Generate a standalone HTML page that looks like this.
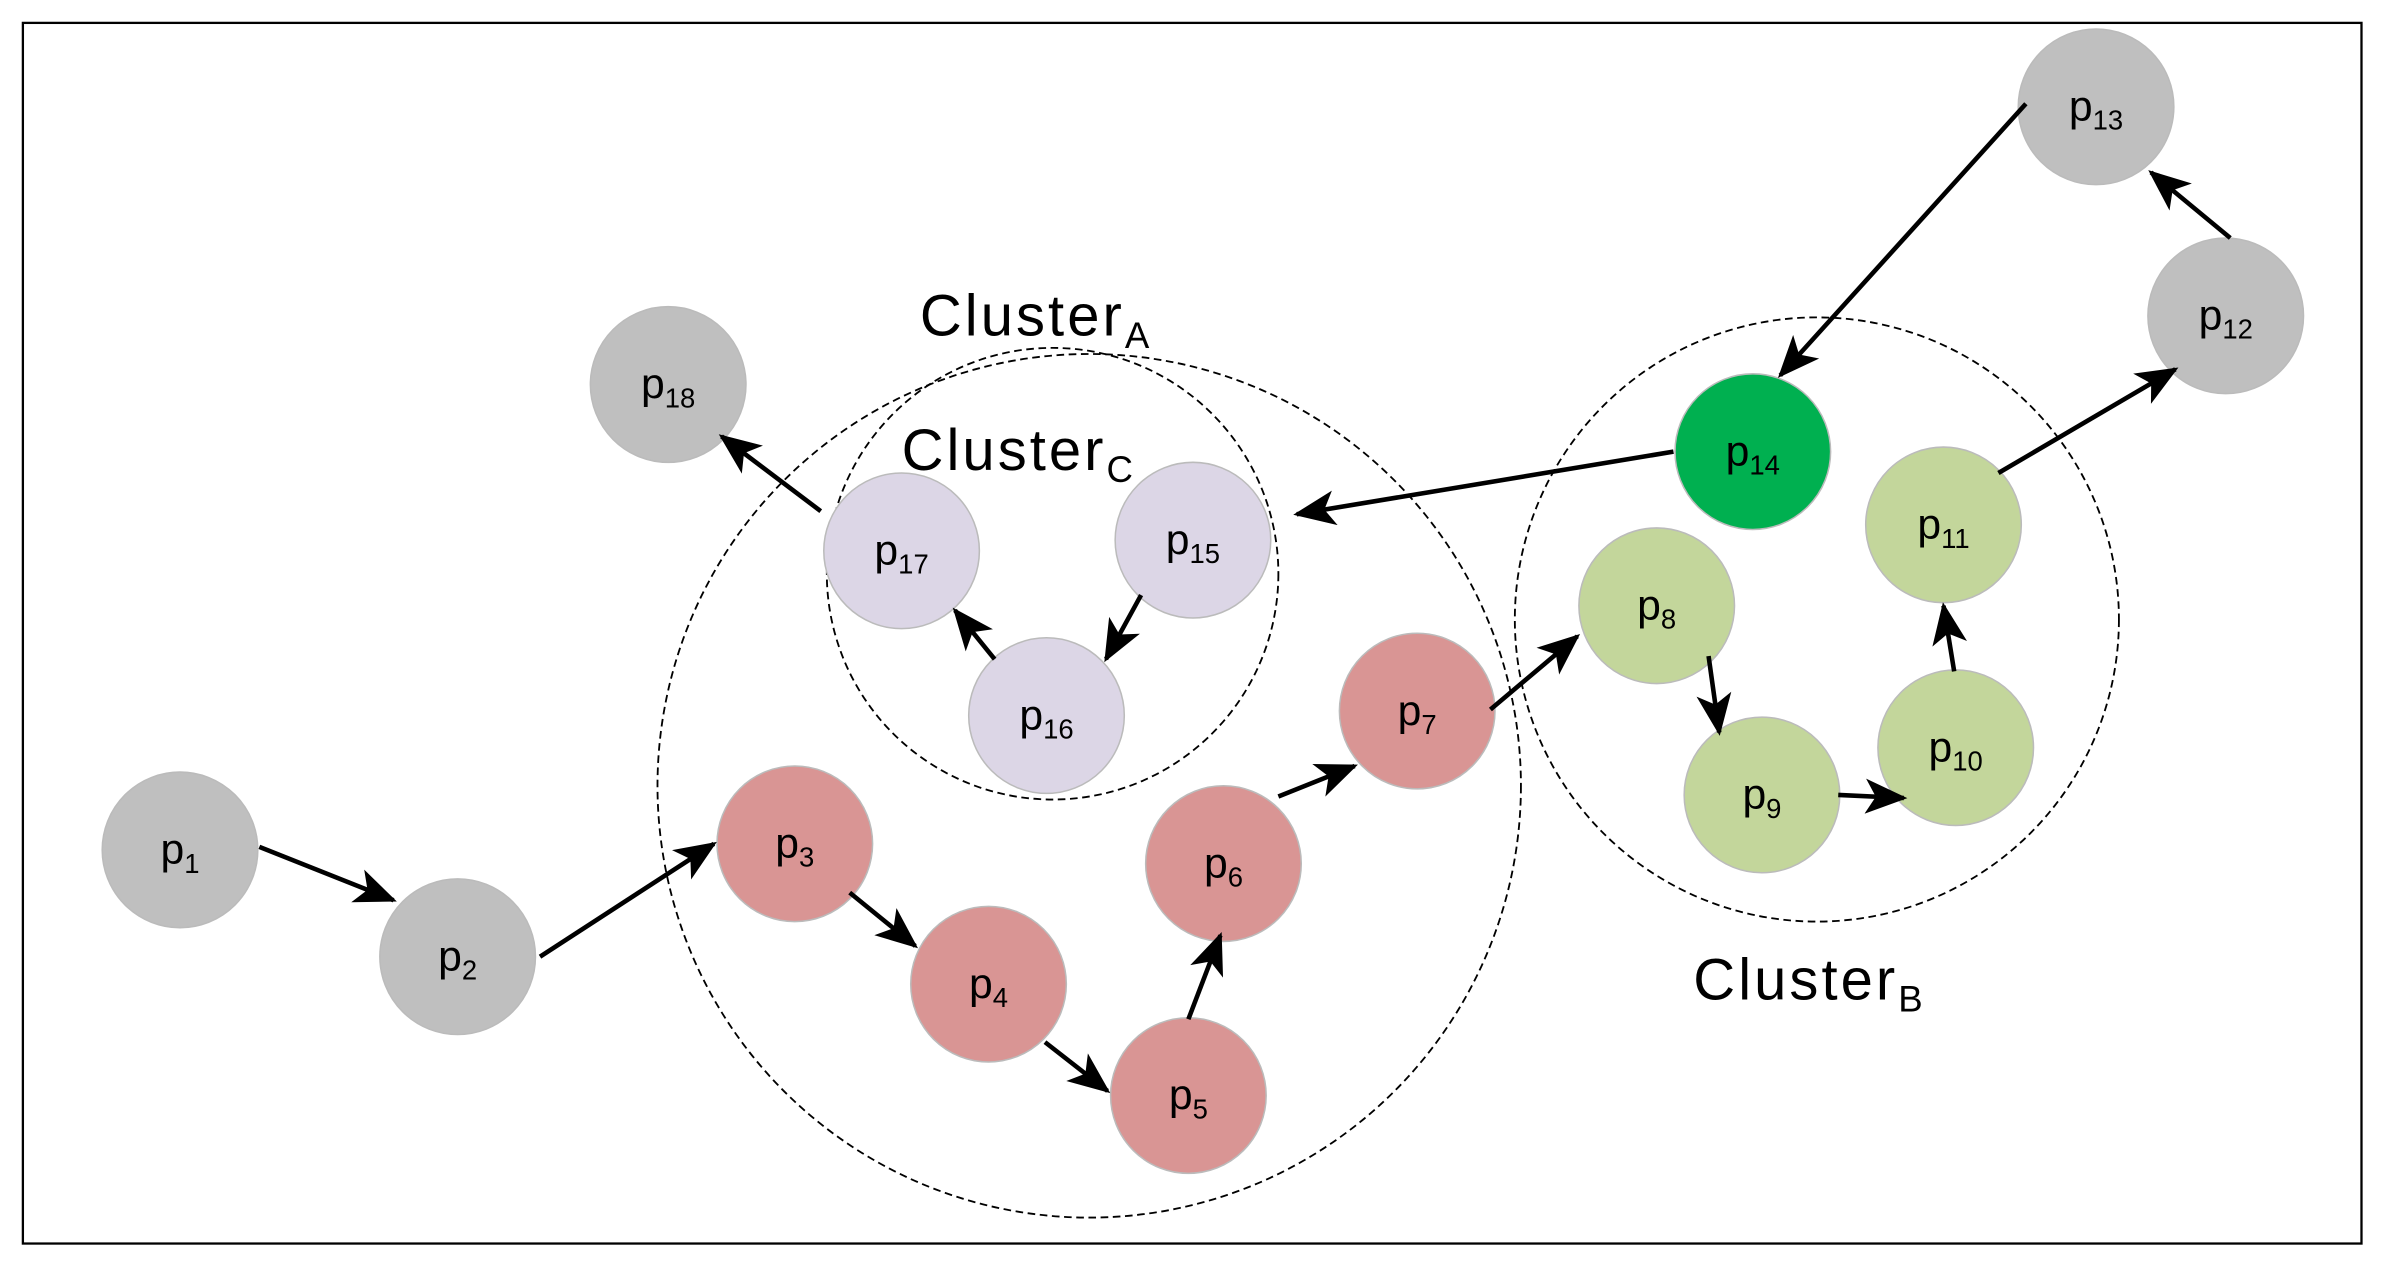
<!DOCTYPE html>
<html><head><meta charset="utf-8"><style>
html,body{margin:0;padding:0;background:#fff;}
svg{display:block;}
text{font-family:"Liberation Sans",sans-serif;fill:#000;}
</style></head><body>
<svg width="2392" height="1271" viewBox="0 0 1568 833" preserveAspectRatio="none" xmlns="http://www.w3.org/2000/svg">
<defs>
<marker id="a" viewBox="0 0 12 10" refX="11" refY="5" markerWidth="28" markerHeight="23" markerUnits="userSpaceOnUse" orient="auto"><path d="M0,0 L12,5 L0,10 L3,5 z" fill="#000"/></marker>
</defs>
<rect x="15" y="15" width="1533" height="800" fill="#fff" stroke="#000" stroke-width="1.5"/>
<g fill="none" stroke="#000" stroke-width="1.2" stroke-dasharray="5,3">
<circle cx="714" cy="515" r="283"/>
<circle cx="690" cy="376" r="148"/>
<circle cx="1191" cy="406" r="198"/>
</g>
<g font-size="38" letter-spacing="2">
<text x="603" y="220">Cluster<tspan font-size="24" dy="8">A</tspan></text>
<text x="591" y="308">Cluster<tspan font-size="24" dy="8">C</tspan></text>
<text x="1110" y="655">Cluster<tspan font-size="24" dy="8">B</tspan></text>
</g>
<g stroke="#bbb" stroke-width="1">
<circle cx="118" cy="557" r="51" fill="#bfbfbf"/>
<circle cx="300" cy="627" r="51" fill="#bfbfbf"/>
<circle cx="1459" cy="207" r="51" fill="#bfbfbf"/>
<circle cx="1374" cy="70" r="51" fill="#bfbfbf"/>
<circle cx="438" cy="252" r="51" fill="#bfbfbf"/>
<circle cx="521" cy="553" r="51" fill="#d99594"/>
<circle cx="648" cy="645" r="51" fill="#d99594"/>
<circle cx="779" cy="718" r="51" fill="#d99594"/>
<circle cx="802" cy="566" r="51" fill="#d99594"/>
<circle cx="929" cy="466" r="51" fill="#d99594"/>
<circle cx="1086" cy="397" r="51" fill="#c3d69b"/>
<circle cx="1155" cy="521" r="51" fill="#c3d69b"/>
<circle cx="1282" cy="490" r="51" fill="#c3d69b"/>
<circle cx="1274" cy="344" r="51" fill="#c3d69b"/>
<circle cx="1149" cy="296" r="51" fill="#00b050"/>
<circle cx="782" cy="354" r="51" fill="#dcd6e6"/>
<circle cx="686" cy="469" r="51" fill="#dcd6e6"/>
<circle cx="591" cy="361" r="51" fill="#dcd6e6"/>
</g>
<g font-size="28" text-anchor="middle">
<text x="118" y="566">p<tspan font-size="18" dy="6">1</tspan></text>
<text x="300" y="636">p<tspan font-size="18" dy="6">2</tspan></text>
<text x="521" y="562">p<tspan font-size="18" dy="6">3</tspan></text>
<text x="648" y="654">p<tspan font-size="18" dy="6">4</tspan></text>
<text x="779" y="727">p<tspan font-size="18" dy="6">5</tspan></text>
<text x="802" y="575">p<tspan font-size="18" dy="6">6</tspan></text>
<text x="929" y="475">p<tspan font-size="18" dy="6">7</tspan></text>
<text x="1086" y="406">p<tspan font-size="18" dy="6">8</tspan></text>
<text x="1155" y="530">p<tspan font-size="18" dy="6">9</tspan></text>
<text x="1282" y="499">p<tspan font-size="18" dy="6">10</tspan></text>
<text x="1274" y="353">p<tspan font-size="18" dy="6">11</tspan></text>
<text x="1459" y="216">p<tspan font-size="18" dy="6">12</tspan></text>
<text x="1374" y="79">p<tspan font-size="18" dy="6">13</tspan></text>
<text x="1149" y="305">p<tspan font-size="18" dy="6">14</tspan></text>
<text x="782" y="363">p<tspan font-size="18" dy="6">15</tspan></text>
<text x="686" y="478">p<tspan font-size="18" dy="6">16</tspan></text>
<text x="591" y="370">p<tspan font-size="18" dy="6">17</tspan></text>
<text x="438" y="261">p<tspan font-size="18" dy="6">18</tspan></text>
</g>
<g stroke="#000" stroke-width="3" marker-end="url(#a)">
<line x1="170" y1="555" x2="258" y2="590"/>
<line x1="354" y1="627" x2="468" y2="553"/>
<line x1="557" y1="585" x2="600" y2="620"/>
<line x1="685" y1="683" x2="726" y2="715"/>
<line x1="779" y1="668" x2="800" y2="613"/>
<line x1="838" y1="522" x2="888" y2="502"/>
<line x1="977" y1="465" x2="1034" y2="417"/>
<line x1="1120" y1="430" x2="1127" y2="480"/>
<line x1="1205" y1="521" x2="1248" y2="523"/>
<line x1="1281" y1="440" x2="1274" y2="397"/>
<line x1="1310" y1="310" x2="1426" y2="242"/>
<line x1="1462" y1="156" x2="1410" y2="113"/>
<line x1="1328" y1="68" x2="1167" y2="246"/>
<line x1="1097" y1="296" x2="850" y2="337"/>
<line x1="748" y1="390" x2="725" y2="432"/>
<line x1="652" y1="432" x2="626" y2="400"/>
<line x1="538" y1="335" x2="473" y2="286"/>
</g>
</svg>
</body></html>
